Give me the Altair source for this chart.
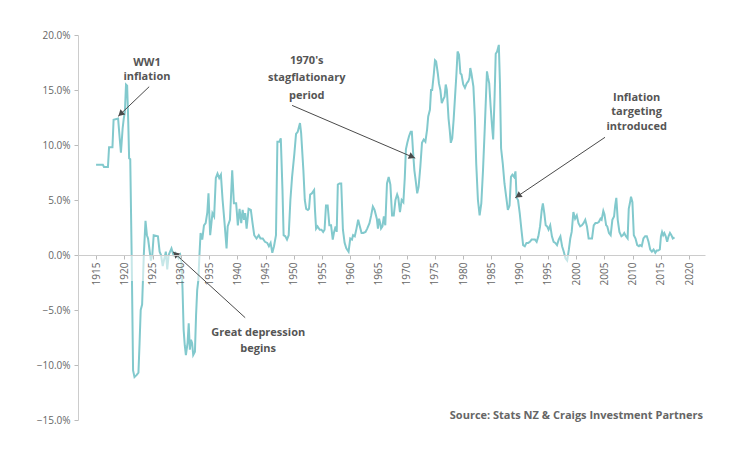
import math
import altair as alt
import pandas as pd

# ---------------- data ----------------
years = [
    1915.0, 1915.5, 1916.2, 1916.4, 1917.1, 1917.3, 1917.9, 1918.1, 1918.9, 1919.2,
    1919.4, 1919.7, 1919.9, 1920.1, 1920.3, 1920.5, 1920.7, 1920.85, 1921.05, 1921.3,
    1921.55, 1921.8, 1922.2, 1922.5, 1922.7, 1922.9, 1923.15, 1923.45, 1923.75, 1924.0,
    1924.2, 1924.45, 1924.7, 1924.95, 1925.2, 1925.95, 1926.25, 1926.5, 1926.8, 1927.1,
    1927.35, 1927.6, 1927.85, 1928.1, 1928.35, 1928.7, 1929.0, 1929.3, 1929.6, 1929.9,
    1930.1, 1930.3, 1930.5, 1930.7, 1930.9, 1931.2, 1931.4, 1931.6, 1931.8, 1932.0,
    1932.2, 1932.5, 1932.7, 1932.9, 1933.1, 1933.3, 1933.5, 1933.8, 1934.1, 1934.4,
    1934.7, 1934.9, 1935.2, 1935.6, 1935.9, 1936.2, 1936.5, 1936.8, 1937.1, 1937.4,
    1937.7, 1938.1, 1938.3, 1938.7, 1939.1, 1939.4, 1939.8, 1940.1, 1940.4, 1940.7,
    1940.95, 1941.2, 1941.4, 1941.65, 1942.0, 1942.4, 1942.7, 1943.0, 1943.4, 1943.8,
    1944.1, 1944.5, 1944.9, 1945.3, 1945.6, 1945.9, 1946.2, 1946.5, 1946.85, 1947.1,
    1947.45, 1947.7, 1948.0, 1948.2, 1948.5, 1948.8, 1949.1, 1949.4, 1949.7, 1950.1,
    1950.4, 1950.7, 1951.1, 1951.3, 1951.7, 1951.95, 1952.2, 1952.5, 1952.7, 1952.9,
    1953.2, 1953.6, 1953.75, 1953.95, 1954.2, 1954.6, 1954.9, 1955.2, 1955.45, 1955.7,
    1956.0, 1956.3, 1956.6, 1956.9, 1957.1, 1957.4, 1957.6, 1957.8, 1958.1, 1958.4,
    1958.7, 1959.0, 1959.3, 1959.7, 1960.0, 1960.3, 1960.5, 1960.8, 1961.1, 1961.4,
    1961.7, 1962.0, 1962.3, 1962.7, 1963.0, 1963.4, 1963.7, 1964.0, 1964.3, 1964.7,
    1964.9, 1965.1, 1965.3, 1965.45, 1965.7, 1965.95, 1966.2, 1966.5, 1966.8, 1967.1,
    1967.4, 1967.7, 1968.0, 1968.3, 1968.5, 1968.8, 1969.1, 1969.4, 1969.65, 1969.85,
    1970.1, 1970.4, 1970.7, 1970.9, 1971.1, 1971.35, 1971.6, 1971.85, 1972.1, 1972.4,
    1972.7, 1973.0, 1973.3, 1973.6, 1973.8, 1974.1, 1974.3, 1974.5, 1974.8, 1975.0,
    1975.2, 1975.5, 1975.7, 1975.95, 1976.2, 1976.5, 1976.7, 1976.9, 1977.1, 1977.4,
    1977.6, 1977.8, 1978.05, 1978.3, 1978.55, 1978.8, 1979.0, 1979.25, 1979.5, 1979.7,
    1980.0, 1980.3, 1980.6, 1980.9, 1981.1, 1981.25, 1981.45, 1981.8, 1982.05, 1982.3,
    1982.6, 1982.9, 1983.2, 1983.5, 1983.8, 1984.2, 1984.4, 1984.6, 1984.85, 1985.1,
    1985.3, 1985.55, 1985.75, 1986.0, 1986.3, 1986.5, 1986.7, 1987.0, 1987.3, 1987.6,
    1987.9, 1988.2, 1988.45, 1988.7, 1989.0, 1989.25, 1989.45, 1989.7, 1990.0, 1990.3,
    1990.6, 1990.9, 1991.2, 1991.5, 1991.8, 1992.1, 1992.4, 1992.7, 1993.0, 1993.3,
    1993.6, 1993.9, 1994.1, 1994.35, 1994.6, 1994.85, 1995.1, 1995.4, 1995.7, 1996.0,
    1996.3, 1996.6, 1996.9, 1997.2, 1997.5, 1997.8, 1998.1, 1998.4, 1998.7, 1998.95,
    1999.2, 1999.5, 1999.8, 2000.1, 2000.4, 2000.7, 2001.0, 2001.3, 2001.6, 2001.9,
    2002.2, 2002.5, 2002.8, 2003.1, 2003.4, 2003.7, 2004.0, 2004.3, 2004.5, 2004.8,
    2005.0, 2005.3, 2005.5, 2005.8, 2006.1, 2006.4, 2006.7, 2006.9, 2007.1, 2007.35,
    2007.65, 2008.0, 2008.25, 2008.5, 2008.8, 2009.1, 2009.3, 2009.5, 2009.7, 2009.95,
    2010.2, 2010.5, 2010.8, 2011.1, 2011.3, 2011.6, 2011.9, 2012.2, 2012.5, 2012.8,
    2013.1, 2013.4, 2013.7, 2014.0, 2014.25, 2014.5, 2014.8, 2015.0, 2015.2, 2015.4,
    2015.6, 2015.85, 2016.1, 2016.35, 2016.6, 2016.85, 2017.1, 2017.4,
]
inflation = [
    8.2, 8.2, 8.2, 8.0, 8.0, 9.8, 9.8, 12.3, 12.4, 10.5,
    9.3, 11.5, 12.4, 13.0, 15.5, 15.4, 12.0, 8.8, 8.7, 0.0,
    -10.5, -11.1, -10.9, -10.7, -8.0, -5.0, -4.5, 0.0, 3.1, 1.8,
    1.5, 0.5, -0.5, 0.0, 1.8, 1.7, 0.3, 0.0, -1.0, -0.3,
    0.3, -1.3, 0.0, 0.3, 0.6, 0.0, 0.2, 0.0, -0.3, 0.0,
    -0.5, -3.0, -6.8, -8.2, -9.1, -8.0, -6.2, -8.6, -7.7, -8.0,
    -9.1, -8.8, -5.5, -3.2, -2.3, 0.0, 2.0, 1.4, 2.7, 2.9,
    3.9, 5.6, 1.8, 3.8, 3.5, 7.0, 7.4, 7.0, 7.3, 5.0,
    3.2, 0.6, 2.6, 3.2, 7.7, 4.7, 4.7, 2.7, 4.2, 2.9,
    4.1, 3.2, 3.8, 2.4, 4.2, 4.1, 2.9, 1.8, 1.5, 1.8,
    1.5, 1.5, 1.2, 1.1, 0.8, 1.1, 0.2, 0.8, 1.8, 10.3,
    10.3, 10.6, 5.9, 1.8, 1.7, 1.4, 1.8, 5.0, 7.1, 9.2,
    11.0, 11.2, 12.0, 11.1, 7.7, 5.0, 4.2, 4.1, 4.2, 5.5,
    5.6, 5.9, 4.1, 2.4, 2.6, 2.3, 2.3, 2.1, 2.3, 4.5,
    4.5, 2.7, 2.7, 1.4, 2.0, 2.6, 2.1, 6.4, 6.5, 6.5,
    2.3, 1.1, 0.6, 0.3, 1.5, 1.4, 1.8, 1.7, 2.4, 3.2,
    2.6, 2.0, 2.0, 2.1, 2.4, 2.9, 3.6, 4.4, 4.1, 3.3,
    2.4, 3.3, 2.9, 2.4, 2.6, 3.5, 2.7, 6.5, 7.1, 6.4,
    3.6, 3.6, 5.0, 5.5, 5.2, 3.9, 5.0, 4.8, 7.0, 9.6,
    10.2, 10.8, 11.2, 11.2, 9.5, 7.7, 6.7, 5.6, 6.2, 8.0,
    10.2, 10.5, 10.3, 11.4, 12.6, 13.2, 15.0, 15.0, 16.5, 17.7,
    17.6, 16.5, 15.6, 15.0, 13.8, 14.2, 14.4, 15.5, 15.0, 12.4,
    11.4, 10.2, 10.6, 12.3, 14.4, 16.5, 18.5, 18.2, 16.5, 16.4,
    15.5, 15.2, 15.6, 15.8, 16.1, 17.0, 16.5, 15.3, 12.6, 8.3,
    5.0, 3.6, 4.7, 7.7, 11.4, 16.7, 16.1, 15.6, 13.5, 11.7,
    10.5, 14.4, 18.3, 18.5, 19.1, 15.6, 9.7, 8.3, 6.5, 5.3,
    4.1, 4.5, 7.1, 7.3, 7.1, 7.6, 5.2, 5.0, 3.8, 2.3,
    0.9, 0.8, 1.1, 1.1, 1.2, 1.4, 1.4, 1.4, 1.2, 1.7,
    2.6, 4.1, 4.7, 3.8, 2.7, 2.6, 2.3, 2.7, 1.7, 1.2,
    1.1, 0.9, 1.4, 1.7, 0.8, 0.3, -0.3, -0.5, 0.5, 1.5,
    2.1, 3.9, 3.3, 3.6, 2.9, 2.6, 2.7, 2.9, 3.2, 2.6,
    1.5, 1.5, 1.5, 2.7, 2.9, 2.9, 3.0, 3.3, 3.2, 4.0,
    3.7, 2.7, 2.6, 2.0, 1.8, 3.2, 3.5, 4.5, 5.2, 3.2,
    2.1, 1.7, 1.8, 2.0, 1.7, 1.5, 4.2, 4.7, 5.3, 4.8,
    1.8, 1.5, 0.9, 0.8, 0.9, 0.8, 1.5, 1.7, 1.7, 1.2,
    0.5, 0.3, 0.5, 0.2, 0.4, 0.4, 0.5, 1.7, 2.1, 1.8,
    2.0, 1.7, 1.2, 1.7, 2.0, 1.8, 1.5, 1.6,
]

x_ticks = list(range(1915, 2021, 5))
y_ticks = [-15, -10, -5, 0, 5, 10, 15, 20]

# annotations: text lines (text, x, y) and arrows (start -> tip), in data units
ann_text = ["WW1", "inflation",
            "1970's", "stagflationary", "period",
            "Inflation", "targeting", "introduced",
            "Great depression", "begins"]
ann_x = [1924.0, 1924.0,
         1952.3, 1952.3, 1952.3,
         2010.7, 2010.7, 2010.7,
         1943.7, 1943.7]
ann_y = [17.5, 16.2,
         17.6, 16.1, 14.5,
         14.3, 13.0, 11.6,
         -7.1, -8.5]

arrow_x1 = [1924.4, 1949.7, 2005.1, 1941.4]
arrow_y1 = [15.3, 13.6, 10.7, -5.7]
arrow_x2 = [1918.9, 1971.5, 1989.2, 1928.6]
arrow_y2 = [12.6, 8.8, 5.2, 0.3]

source_text = "Source: Stats NZ & Craigs Investment Partners"

# ---------------- layout ----------------
X_DOMAIN = [1911.8, 2022.8]
Y_DOMAIN = [-15, 20]
W, H = 627, 385
FONT = "Open Sans"
LINE_COLOR = "#82c9cd"
TEXT_COLOR = "#555555"

px_per_x = W / (X_DOMAIN[1] - X_DOMAIN[0])
px_per_y = H / (Y_DOMAIN[1] - Y_DOMAIN[0])
zero_px = H * (Y_DOMAIN[1] - 0) / (Y_DOMAIN[1] - Y_DOMAIN[0])

x_scale = alt.Scale(domain=X_DOMAIN, nice=False, zero=False)
y_scale = alt.Scale(domain=Y_DOMAIN, nice=False, zero=False)

x_axis = alt.Axis(values=x_ticks, format="d", labelAngle=-90,
                  offset=-(H - zero_px), zindex=1, labelOverlap=False,
                  labelFlush=False, labelBound=False,
                  domainColor="#cccccc", tickColor="#bbbbbb", tickSize=4,
                  labelColor="#666666", labelFont=FONT, labelFontSize=10,
                  labelPadding=3, grid=False, title=None)
y_axis = alt.Axis(values=y_ticks, labelExpr="format(datum.value, '.1f') + '%'",
                  zindex=1, labelOverlap=False, labelFlush=False,
                  domainColor="#cccccc", tickColor="#bbbbbb",
                  tickSize=4, labelColor="#666666", labelFont=FONT,
                  labelFontSize=10, labelPadding=4, grid=False, title=None)

df = pd.DataFrame({"year": years, "inflation": inflation})

line = alt.Chart(df).mark_line(color=LINE_COLOR, strokeWidth=2).encode(
    x=alt.X("year:Q", scale=x_scale, axis=x_axis),
    y=alt.Y("inflation:Q", scale=y_scale, axis=y_axis),
)

# light band over the line just below zero (tick-label zone)
fade = alt.Chart(pd.DataFrame({"a": [0]})).mark_rect(color="white", opacity=0.55).encode(
    x=alt.value(0), x2=alt.value(W),
    y=alt.value(zero_px), y2=alt.value(zero_px + 26),
)

arrows_df = pd.DataFrame({"x1": arrow_x1, "y1": arrow_y1, "x2": arrow_x2, "y2": arrow_y2})
heads = []
for a, b, c, d in zip(arrow_x1, arrow_y1, arrow_x2, arrow_y2):
    dxp = (c - a) * px_per_x
    dyp = -(d - b) * px_per_y
    ang = math.degrees(math.atan2(dxp, -dyp)) % 360
    L = math.hypot(dxp, dyp)
    back = 3.5
    hx = c - (dxp / L) * back / px_per_x
    hy = d + (dyp / L) * back / px_per_y
    heads.append({"hx": hx, "hy": hy, "angle": ang})
heads_df = pd.DataFrame(heads)

arrow_lines = alt.Chart(arrows_df).mark_rule(color="#4a4a4a", strokeWidth=1).encode(
    x=alt.X("x1:Q", scale=x_scale, axis=x_axis),
    y=alt.Y("y1:Q", scale=y_scale, axis=y_axis),
    x2="x2:Q", y2="y2:Q",
)
arrow_heads = alt.Chart(heads_df).mark_point(
    shape="triangle-up", filled=True, size=50, color="#4a4a4a", opacity=1
).encode(
    x=alt.X("hx:Q", scale=x_scale, axis=x_axis),
    y=alt.Y("hy:Q", scale=y_scale, axis=y_axis),
    angle=alt.Angle("angle:Q", scale=None),
)

ann_df = pd.DataFrame({"t": ann_text, "x": ann_x, "y": ann_y})
labels = alt.Chart(ann_df).mark_text(
    font=FONT, fontWeight="bold", fontSize=11, color=TEXT_COLOR,
    align="center", baseline="middle"
).encode(
    x=alt.X("x:Q", scale=x_scale, axis=x_axis),
    y=alt.Y("y:Q", scale=y_scale, axis=y_axis),
    text="t:N",
)

source = alt.Chart(pd.DataFrame({"t": [source_text]})).mark_text(
    font=FONT, fontWeight="bold", fontSize=11, color="#666666",
    align="right", baseline="middle"
).encode(
    x=alt.value(W - 2), y=alt.value(H - 4), text="t:N",
)

chart = alt.layer(line, fade, arrow_lines, arrow_heads, labels, source).properties(
    width=W, height=H,
    autosize=alt.AutoSizeParams(type="none"),
    padding={"left": 70, "top": 27, "right": 30, "bottom": 20},
    background="white",
).configure_view(stroke=None).configure_axis(labelOverlap=False)

chart.save("out.html", embed_options={"renderer": "svg", "actions": False})
